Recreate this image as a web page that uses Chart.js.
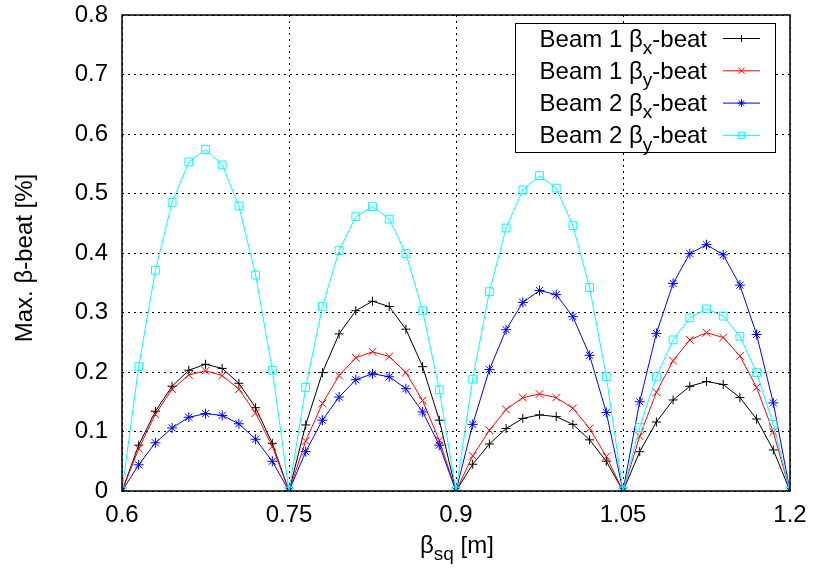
<!DOCTYPE html>
<html>
<head>
<meta charset="utf-8">
<script src="https://cdn.jsdelivr.net/npm/chart.js@4/dist/chart.umd.min.js"></script>
<style>
  body { margin: 0; background: #fff; }
  canvas { display: block; }
</style>
</head>
<body>
<canvas id="myChart" width="814" height="574"></canvas>
<script>
// beta_sq values [m]
var xs = [0.6, 0.615, 0.63, 0.645, 0.66, 0.675, 0.69, 0.705, 0.72, 0.735,
          0.75, 0.765, 0.78, 0.795, 0.81, 0.825, 0.84, 0.855, 0.87, 0.885,
          0.9, 0.915, 0.93, 0.945, 0.96, 0.975, 0.99, 1.005, 1.02, 1.035,
          1.05, 1.065, 1.08, 1.095, 1.11, 1.125, 1.14, 1.155, 1.17, 1.185, 1.2];

var beam1x = [0, 0.077, 0.134, 0.176, 0.203, 0.213, 0.206, 0.181, 0.140, 0.080,
              0, 0.111, 0.199, 0.264, 0.303, 0.319, 0.310, 0.272, 0.209, 0.119,
              0, 0.045, 0.079, 0.105, 0.122, 0.128, 0.125, 0.112, 0.086, 0.050,
              0, 0.066, 0.116, 0.153, 0.176, 0.184, 0.179, 0.157, 0.121, 0.069, 0];
var beam1y = [0, 0.071, 0.129, 0.171, 0.195, 0.202, 0.194, 0.171, 0.131, 0.075,
              0, 0.084, 0.147, 0.194, 0.224, 0.234, 0.226, 0.199, 0.152, 0.085,
              0, 0.059, 0.102, 0.137, 0.157, 0.163, 0.157, 0.139, 0.105, 0.058,
              0, 0.092, 0.166, 0.219, 0.254, 0.266, 0.258, 0.227, 0.174, 0.099, 0];
var beam2x = [0, 0.044, 0.081, 0.106, 0.124, 0.130, 0.127, 0.113, 0.087, 0.050,
              0, 0.066, 0.119, 0.158, 0.187, 0.197, 0.192, 0.172, 0.133, 0.077,
              0, 0.112, 0.204, 0.271, 0.317, 0.337, 0.330, 0.293, 0.228, 0.132,
              0, 0.150, 0.265, 0.349, 0.399, 0.414, 0.397, 0.346, 0.263, 0.148, 0];
var beam2y = [0, 0.209, 0.371, 0.485, 0.553, 0.574, 0.548, 0.479, 0.363, 0.203,
              0, 0.174, 0.310, 0.404, 0.461, 0.478, 0.457, 0.399, 0.303, 0.170,
              0, 0.188, 0.335, 0.442, 0.506, 0.530, 0.509, 0.446, 0.342, 0.192,
              0, 0.107, 0.192, 0.254, 0.291, 0.306, 0.294, 0.260, 0.199, 0.112, 0];

var xTicks = [0.6, 0.75, 0.9, 1.05, 1.2];
var xTickLabels = ["0.6", "0.75", "0.9", "1.05", "1.2"];
var yTicks = [0, 0.1, 0.2, 0.3, 0.4, 0.5, 0.6, 0.7, 0.8];
var yTickLabels = ["0", "0.1", "0.2", "0.3", "0.4", "0.5", "0.6", "0.7", "0.8"];

// legend: [before subscript, subscript, after]
var seriesNames = [["Beam 1 \u03b2", "x", "-beat"], ["Beam 1 \u03b2", "y", "-beat"],
                   ["Beam 2 \u03b2", "x", "-beat"], ["Beam 2 \u03b2", "y", "-beat"]];
var seriesColors = ["#000000", "#ff0000", "#0000ff", "#00ffff"];
var seriesMarks = ["cross", "crossRot", "star", "rect"];
var seriesRadius = [4.5, 5.5, 5, 5.5];

var FONT = "'Liberation Sans', Arial, sans-serif";

function pts(ys) {
    return xs.map(function (x, i) { return { x: x, y: ys[i] }; });
}

function makeSet(i, ys) {
    return {
        label: seriesNames[i].join(""),
        data: pts(ys),
        borderColor: seriesColors[i],
        backgroundColor: "rgba(0,0,0,0)",
        borderWidth: 1,
        pointStyle: seriesMarks[i],
        pointRadius: seriesRadius[i],
        pointBorderColor: seriesColors[i],
        pointBackgroundColor: "rgba(0,0,0,0)",
        pointBorderWidth: 1,
        tension: 0,
        order: 4 - i
    };
}

// draw text with a subscript part; align: "left" | "right" | "center"
function subText(ctx, parts, x, y, size, align) {
    var big = size + "px " + FONT, small = Math.round(size * 0.8) + "px " + FONT;
    ctx.font = big;
    var w1 = ctx.measureText(parts[0]).width;
    var w3 = ctx.measureText(parts[2]).width;
    ctx.font = small;
    var w2 = ctx.measureText(parts[1]).width;
    var total = w1 + w2 + w3;
    var sx = align === "right" ? x - total : (align === "center" ? x - total / 2 : x);
    ctx.textAlign = "left";
    ctx.textBaseline = "alphabetic";
    ctx.font = big;
    ctx.fillText(parts[0], sx, y);
    ctx.font = small;
    ctx.fillText(parts[1], sx + w1, y + size * 0.3);
    ctx.font = big;
    ctx.fillText(parts[2], sx + w1 + w2, y);
}

var decor = {
    id: "decor",
    afterDatasetsDraw: function (chart) {
        var ctx = chart.ctx, a = chart.chartArea;
        ctx.save();
        // frame
        ctx.strokeStyle = "#000";
        ctx.lineWidth = 1.5;
        ctx.strokeRect(a.left, a.top, a.right - a.left, a.bottom - a.top);

        // legend box
        var bx = 515, by = 23, bw = 260, bh = 129;
        ctx.fillStyle = "#fff";
        ctx.fillRect(bx, by, bw, bh);
        ctx.lineWidth = 1;
        ctx.strokeRect(bx + 0.5, by + 0.5, bw, bh);
        for (var i = 0; i < seriesNames.length; i++) {
            var cy = 38 + i * 32.3;
            ctx.fillStyle = "#000";
            subText(ctx, seriesNames[i], 707, cy + 8.5, 24, "right");
            ctx.strokeStyle = seriesColors[i];
            ctx.lineWidth = 1;
            ctx.beginPath();
            ctx.moveTo(723, cy + 0.5);
            ctx.lineTo(760, cy + 0.5);
            ctx.stroke();
            ctx.fillStyle = "rgba(0,0,0,0)";
            Chart.helpers.drawPoint(ctx, { pointStyle: seriesMarks[i], radius: seriesRadius[i] - 1, rotation: 0, borderWidth: 1 }, 741.5, cy + 0.5);
        }

        // axis titles
        ctx.fillStyle = "#000";
        subText(ctx, ["\u03b2", "sq", " [m]"], 457, 553, 24, "center");
        ctx.translate(25, 258);
        ctx.rotate(-Math.PI / 2);
        ctx.font = "24px " + FONT;
        ctx.textAlign = "center";
        ctx.textBaseline = "middle";
        ctx.fillText("Max. \u03b2-beat [%]", 0, 0);
        ctx.restore();
    }
};

var ctx = document.getElementById("myChart");
var options = {
    responsive: false,
    animation: false,
    devicePixelRatio: 1,
    layout: { padding: { top: 15, right: 24, left: 0, bottom: 0 } },
    plugins: { legend: { display: false }, tooltip: { enabled: false } },
    scales: {
        x: {
            type: "linear",
            min: 0.6,
            max: 1.2,
            afterBuildTicks: function (scale) {
                scale.ticks = xTicks.map(function (v) { return { value: v }; });
            },
            afterFit: function (scale) {
                scale.height = 83;
                scale.paddingLeft = 0;
                scale.paddingRight = 0;
            },
            ticks: {
                autoSkip: false,
                maxRotation: 0,
                padding: 10,
                color: "#000",
                font: { family: FONT, size: 24 },
                callback: function (v) { return xTickLabels[xTicks.indexOf(v)]; }
            },
            grid: { color: "#000", lineWidth: 1, drawTicks: false },
            border: { display: false, dash: [2, 4] }
        },
        y: {
            min: 0,
            max: 0.8,
            afterBuildTicks: function (scale) {
                scale.ticks = yTicks.map(function (v) { return { value: v }; });
            },
            afterFit: function (scale) {
                scale.width = 122;
                scale.paddingTop = 0;
                scale.paddingBottom = 0;
            },
            ticks: {
                padding: 14,
                color: "#000",
                font: { family: FONT, size: 24 },
                callback: function (v) { return yTickLabels[yTicks.indexOf(v)]; }
            },
            grid: { color: "#000", lineWidth: 1, drawTicks: false },
            border: { display: false, dash: [2, 4] }
        }
    }
};

var myLineChart = new Chart(ctx, {
    type: "line",
    data: {
        datasets: [
            makeSet(0, beam1x),
            makeSet(1, beam1y),
            makeSet(2, beam2x),
            makeSet(3, beam2y)
        ]
    },
    options: options,
    plugins: [decor]
});
</script>
</body>
</html>
